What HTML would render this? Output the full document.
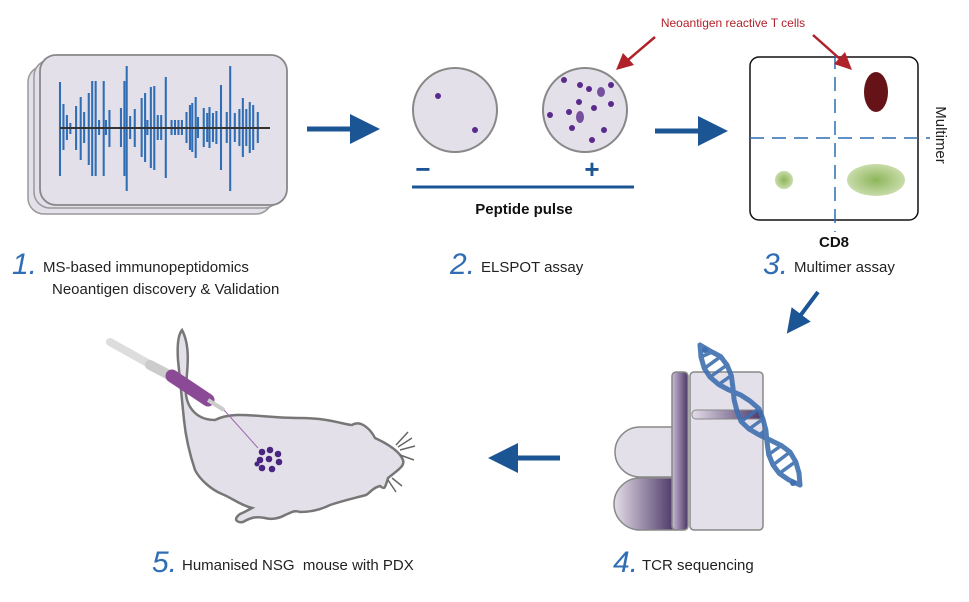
<!DOCTYPE html>
<html><head><meta charset="utf-8"><style>
body{margin:0;background:#fff}
svg{display:block}
text{font-family:"Liberation Sans","DejaVu Sans",sans-serif}
</style></head><body>
<svg width="969" height="602" viewBox="0 0 969 602" xmlns="http://www.w3.org/2000/svg">
<defs>
<marker id="ab" markerWidth="6" markerHeight="6" refX="3" refY="3" orient="auto" markerUnits="strokeWidth"><path d="M0,0 L6,3 L0,6 z" fill="#1b5594"/></marker>
<radialGradient id="g1"><stop offset="0" stop-color="#8db55a"/><stop offset="1" stop-color="#c8dcaa"/></radialGradient>
<linearGradient id="pg" x1="0" x2="1"><stop offset="0" stop-color="#e4dde8"/><stop offset="1" stop-color="#4a3566"/></linearGradient>
<linearGradient id="pg2" x1="0" x2="1"><stop offset="0" stop-color="#c9bcd4"/><stop offset="1" stop-color="#4a3566"/></linearGradient>
</defs>

<!-- Panel 1 -->
<rect x="28" y="66" width="244" height="148" rx="16" fill="#e4e0ea" stroke="#999" stroke-width="1.5"/>
<rect x="34" y="60" width="246" height="148" rx="16" fill="#e4e0ea" stroke="#999" stroke-width="1.5"/>
<rect x="40" y="55" width="247" height="150" rx="16" fill="#e4e0ea" stroke="#888" stroke-width="1.8"/>
<g stroke="#2f6db5" stroke-width="1.8" transform="translate(60,0) scale(1.15,1) translate(-60,0)">
<path d="M60,82V176 M63,104V150 M66,115V140 M69,123V134 M74,106V150 M78,97V160 M81,112V143 M85,93V165 M88,81V176 M91,81V176 M94,120V135 M98,81V176 M100,120V135 M103,110V147 M113,108V147 M116,81V176 M118,66V191 M121,116V139 M125,109V147 M131,98V157 M134,93V162 M136,120V135 M139,87V168 M142,86V170 M145,115V140 M148,115V140 M152,77V178 M157,120V135 M160,120V135 M163,120V135 M166,120V135 M170,112V143 M173,105V150 M175,103V152 M178,97V158 M180,117V138 M185,108V147 M188,113V142 M190,107V148 M193,113V142 M196,111V144 M200,85V170 M205,112V143 M208,66V191 M212,113V142 M216,109V146 M219,98V157 M222,109V146 M225,102V153 M228,105V150 M232,112V143"/>
</g>
<line x1="60" y1="128" x2="270" y2="128" stroke="#333" stroke-width="2"/>

<!-- arrow 1 -->
<line x1="307" y1="129" x2="365" y2="129" stroke="#1b5594" stroke-width="5" marker-end="url(#ab)"/>

<!-- Panel 2 -->
<circle cx="455" cy="110" r="42" fill="#e4e0ea" stroke="#888" stroke-width="2"/>
<circle cx="438" cy="96" r="3" fill="#5a2a8c"/><circle cx="475" cy="130" r="3" fill="#5a2a8c"/>
<circle cx="585" cy="110" r="42" fill="#e4e0ea" stroke="#888" stroke-width="2"/>
<g fill="#5a2a8c">
<circle cx="564" cy="80" r="3"/><circle cx="580" cy="85" r="3"/><circle cx="589" cy="89" r="3"/><ellipse cx="601" cy="92" rx="4" ry="5" opacity=".8"/><circle cx="611" cy="85" r="3"/><circle cx="579" cy="102" r="3"/><circle cx="594" cy="108" r="3"/><circle cx="611" cy="104" r="3"/><circle cx="550" cy="115" r="3"/><circle cx="569" cy="112" r="3"/><ellipse cx="580" cy="117" rx="4" ry="6" opacity=".8"/><circle cx="572" cy="128" r="3"/><circle cx="604" cy="130" r="3"/><circle cx="592" cy="140" r="3"/>
</g>
<text x="423" y="178" font-size="26" font-weight="bold" fill="#1b5594" text-anchor="middle">−</text>
<text x="592" y="178" font-size="26" font-weight="bold" fill="#1b5594" text-anchor="middle">+</text>
<line x1="412" y1="187" x2="634" y2="187" stroke="#1b5594" stroke-width="3"/>
<text x="524" y="214" font-size="15" font-weight="bold" fill="#111" text-anchor="middle">Peptide pulse</text>

<!-- arrow 2 -->
<line x1="655" y1="131" x2="713" y2="131" stroke="#1b5594" stroke-width="5" marker-end="url(#ab)"/>

<!-- Panel 3 -->
<rect x="750" y="57" width="168" height="163" rx="9" fill="#fff" stroke="#111" stroke-width="1.5"/>
<line x1="835" y1="55" x2="835" y2="232" stroke="#2f6db5" stroke-width="1.5" stroke-dasharray="14,8"/>
<line x1="750" y1="138" x2="930" y2="138" stroke="#2f6db5" stroke-width="1.5" stroke-dasharray="14,8"/>
<ellipse cx="876" cy="92" rx="12" ry="20" fill="#651316"/>
<circle cx="784" cy="180" r="9" fill="url(#g1)"/>
<ellipse cx="876" cy="180" rx="29" ry="16" fill="url(#g1)"/>
<text x="834" y="247" font-size="15" font-weight="bold" fill="#111" text-anchor="middle">CD8</text>
<text transform="translate(936,135) rotate(90)" font-size="15" fill="#222" text-anchor="middle">Multimer</text>

<!-- red label + arrows -->
<text x="733" y="27" font-size="12" fill="#b0222a" text-anchor="middle">Neoantigen reactive T cells</text>
<g stroke="#b0222a" stroke-width="2.5" fill="#b0222a">
<line x1="655" y1="37" x2="628" y2="60"/>
<path d="M616,70 L623,53 L634,65 Z" stroke="none"/>
<line x1="813" y1="35" x2="840" y2="59"/>
<path d="M852,70 L834,64 L845,52 Z" stroke="none"/>
</g>

<!-- step labels -->
<text x="12" y="274" font-size="30" font-style="italic" fill="#2f6db5">1.</text>
<text x="43" y="272" font-size="15" fill="#222">MS-based immunopeptidomics</text>
<text x="52" y="294" font-size="15" fill="#222">Neoantigen discovery &amp; Validation</text>
<text x="450" y="274" font-size="30" font-style="italic" fill="#2f6db5">2.</text>
<text x="481" y="272" font-size="15" fill="#222">ELSPOT assay</text>
<text x="763" y="274" font-size="30" font-style="italic" fill="#2f6db5">3.</text>
<text x="794" y="272" font-size="15" fill="#222">Multimer assay</text>

<!-- diag arrow -->
<line x1="818" y1="292" x2="794" y2="324" stroke="#1b5594" stroke-width="4" marker-end="url(#ab)"/>

<!-- Panel 4 TCR -->
<path d="M675,427 H640 A25,25 0 0 0 640,477 H675 Z" fill="#e4e0ea" stroke="#888" stroke-width="1.5"/>
<path d="M675,478 H640 A26,26 0 0 0 640,530 H675 Z" fill="url(#pg)" stroke="#888" stroke-width="1.5"/>
<rect x="672" y="372" width="16" height="158" rx="4" fill="url(#pg2)" stroke="#888" stroke-width="1.5"/>
<rect x="690" y="372" width="73" height="158" rx="4" fill="#e4e0ea" stroke="#888" stroke-width="1.5"/>
<rect x="692" y="410" width="71" height="9" rx="4" fill="url(#pg)" stroke="#888" stroke-width="1"/>
<g stroke="#3f6fb0" fill="none" opacity=".9" stroke-linejoin="round" stroke-linecap="round">
<polyline stroke-width="5" points="700,345 712,352 720.7,356.6 727,365 731.3,375.5 733,388 734.1,399.9 737,411 741.1,421.4 749,429 759.1,434.9 770,440 781.3,445.5 790,452 795.7,461.6 799,473 800,485"/>
<polyline stroke-width="5" points="700,345 701,357 704.3,368.4 710,377 718.7,384.5 729,390 740.9,395.1 750,401 758.9,408.6 763,419 765.9,430.1 767,442 768.7,454.5 773,465 779.3,473.4 789,480 800,485"/>
<path stroke-width="3.5" d="M712,352 L701,357 M720.7,356.6 L704.3,368.4 M727,365 L710,377 M731.3,375.5 L718.7,384.5 M741.1,421.4 L758.9,408.6 M749,429 L763,419 M759.1,434.9 L765.9,430.1 M781.3,445.5 L768.7,454.5 M790,452 L773,465 M795.7,461.6 L779.3,473.4"/>
</g>
<circle cx="705" cy="350" r="3" fill="#3f6fb0"/><circle cx="793" cy="483" r="3" fill="#3f6fb0"/>
<text x="613" y="572" font-size="30" font-style="italic" fill="#2f6db5">4.</text>
<text x="642" y="570" font-size="15" fill="#222">TCR sequencing</text>

<!-- arrow left -->
<line x1="560" y1="458" x2="503" y2="458" stroke="#1b5594" stroke-width="5" marker-end="url(#ab)"/>

<!-- Panel 5 mouse -->
<path d="M182,330 C190,345 188,365 186,385 C184,405 195,420 215,420 C235,410 260,418 300,418 C330,418 345,425 352,425 C360,420 370,428 375,438 C390,445 400,452 403,460 C405,466 398,470 388,478 C385,488 385,490 380,486 C372,488 370,493 366,495 C355,498 345,500 330,505 C320,510 310,512 300,512 C295,510 292,512 285,515 C280,518 272,520 265,518 C255,516 250,518 243,522 C238,523 232,520 240,514 C245,512 248,510 252,508 C240,505 232,498 222,494 C212,490 200,480 195,470 C190,455 186,440 184,420 C182,400 180,380 178,360 C177,345 178,335 182,330 Z" fill="#e4e0ea" stroke="#777" stroke-width="2.5"/>
<path d="M396,445 L408,432 M398,447 L412,438 M400,450 L415,446 M400,455 L414,460 M392,478 L402,486 M388,480 L396,492" stroke="#666" stroke-width="1.5"/>
<g stroke="#aaa" stroke-width="6" stroke-linecap="round" fill="none">
<path d="M110,342 L160,370" stroke="#ddd" stroke-width="8"/>
<path d="M150,365 L175,378" stroke="#ccc" stroke-width="10"/>
</g>
<path d="M172,376 L208,400" stroke="#8a4a95" stroke-width="13" stroke-linecap="round"/>
<path d="M208,400 L224,410" stroke="#ccc" stroke-width="4"/>
<line x1="224" y1="410" x2="258" y2="448" stroke="#9a6aa8" stroke-width="1"/>
<g fill="#4a2580">
<circle cx="262" cy="452" r="3.3"/><circle cx="270" cy="450" r="3.3"/><circle cx="278" cy="454" r="3.3"/><circle cx="260" cy="460" r="3.3"/><circle cx="269" cy="459" r="3.3"/><circle cx="279" cy="462" r="3.3"/><circle cx="262" cy="468" r="3.3"/><circle cx="272" cy="469" r="3.3"/><circle cx="257" cy="464" r="2.5"/>
</g>
<text x="152" y="572" font-size="30" font-style="italic" fill="#2f6db5">5.</text>
<text x="182" y="570" font-size="15" fill="#222" xml:space="preserve">Humanised NSG  mouse with PDX</text>
</svg>
</body></html>
